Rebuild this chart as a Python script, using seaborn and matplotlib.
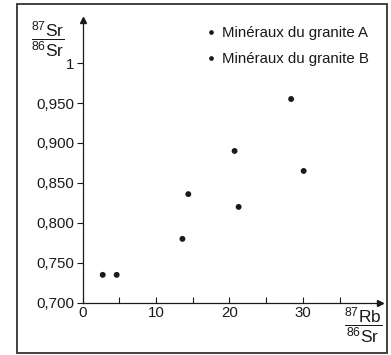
import numpy as np
import pandas as pd
import matplotlib
matplotlib.use("Agg")
import matplotlib.pyplot as plt
from matplotlib.patches import Rectangle
import seaborn as sns

# ── Data ──────────────────────────────────────────────────────────────────────
rb_sr_a = [4.65, 14.4, 20.7, 28.4]
sr_sr_a = [0.735, 0.836, 0.890, 0.955]
rb_sr_b = [2.75, 13.6, 21.25, 30.1]
sr_sr_b = [0.735, 0.780, 0.820, 0.865]
series_names = ["Minéraux du granite A", "Minéraux du granite B"]

y_ticks = [0.700, 0.750, 0.800, 0.850, 0.900, 0.950, 1.0]
y_tick_labels = ["0,700", "0,750", "0,800", "0,850", "0,900", "0,950", "1"]
x_ticks = [0, 10, 20, 30]
x_minor = [5, 15, 25, 35]

df = pd.DataFrame({
    "x": rb_sr_a + rb_sr_b,
    "y": sr_sr_a + sr_sr_b,
    "granite": [series_names[0]] * len(rb_sr_a) + [series_names[1]] * len(rb_sr_b),
})

# ── Style ─────────────────────────────────────────────────────────────────────
sns.set_style("white")
plt.rcParams["font.family"] = ["Liberation Sans", "DejaVu Sans"]
plt.rcParams["mathtext.fontset"] = "custom"
plt.rcParams["mathtext.rm"] = "Liberation Sans"
plt.rcParams["mathtext.it"] = "Liberation Sans"
INK = "#1a1a1a"

fig = plt.figure(figsize=(3.91, 3.55), dpi=100)
ax = fig.add_axes([0.211, 0.147, 0.761, 0.797])

sns.scatterplot(data=df, x="x", y="y", hue="granite",
                palette=[INK, INK], s=18, edgecolor="none", ax=ax)

ax.set_xlim(0, 40.5)
ax.set_ylim(0.700, 1.054)

# axes: only left and bottom, with arrow heads
for side in ["top", "right"]:
    ax.spines[side].set_visible(False)
for side in ["left", "bottom"]:
    ax.spines[side].set_color(INK)
    ax.spines[side].set_linewidth(0.9)
ax.plot(1, 0.700, ">", color=INK, markersize=5, transform=ax.get_yaxis_transform(), clip_on=False)
ax.plot(0, 1, "^", color=INK, markersize=5, transform=ax.get_xaxis_transform(), clip_on=False)

ax.set_yticks(y_ticks)
ax.set_yticklabels(y_tick_labels, fontsize=10.8, color=INK)
ax.set_xticks(x_ticks)
ax.set_xticklabels([str(v) for v in x_ticks], fontsize=10.8, color=INK)
ax.set_xticks(x_minor, minor=True)
ax.tick_params(axis="y", direction="out", length=4, width=0.8, color=INK, left=True, pad=2)
ax.tick_params(axis="x", which="both", direction="in", length=4, width=0.8, color=INK, bottom=True, pad=2)
ax.set_xlabel("")
ax.set_ylabel("")

# fraction labels
fig.text(0.123, 0.887, r"$\dfrac{^{87}\mathrm{Sr}}{^{86}\mathrm{Sr}}$", fontsize=12.5,
         ha="center", va="center", color=INK)
fig.text(0.928, 0.083, r"$\dfrac{^{87}\mathrm{Rb}}{^{86}\mathrm{Sr}}$", fontsize=12.5,
         ha="center", va="center", color=INK)

leg = ax.legend(loc="upper left", bbox_to_anchor=(0.40, 1.0), frameon=False,
                fontsize=10.8, handlelength=0.5, handletextpad=0.45, labelspacing=0.8,
                markerscale=0.8, borderaxespad=0)
for t in leg.get_texts():
    t.set_color(INK)

# outer frame of the figure
fig.add_artist(Rectangle((0.043, 0.006), 0.948, 0.982, transform=fig.transFigure,
                         fill=False, edgecolor="#333333", linewidth=1.3))

fig.savefig("out.png", dpi=100, facecolor="white")
